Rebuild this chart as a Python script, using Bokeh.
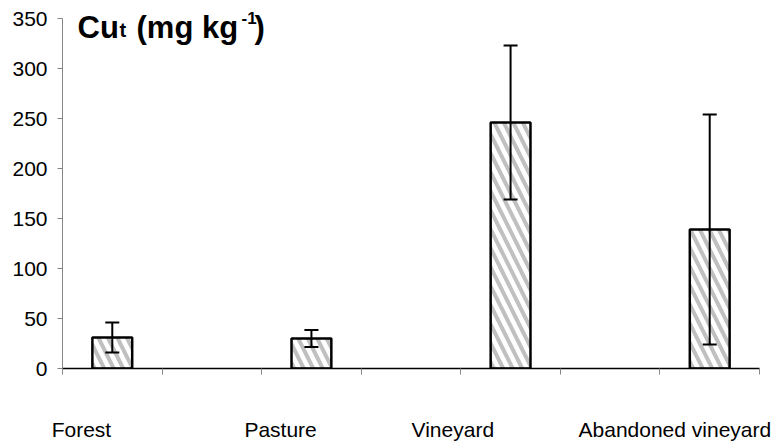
from bokeh.plotting import figure
from bokeh.models import (Range1d, FixedTicker, ColumnDataSource, Whisker, TeeHead, Label, LinearAxis)
from bokeh.embed import file_html
from bokeh.resources import INLINE

# ---- data ----
categories = ["Forest", "Pasture", "Vineyard", "Abandoned vineyard"]
slot_index = [0, 2, 4, 6]          # Excel category slot of each bar (7 slots, blanks between)
n_slots = 7
cu_mean = [31, 30, 246, 139]
cu_err = [15, 8.5, 77, 115]
y_ticks = [0, 50, 100, 150, 200, 250, 300, 350]
label_shift = [-0.31, -0.31, -0.58, -0.35]   # category label offsets (slots) as placed in the original

FONT = "Liberation Sans"

x_centers = [i + 0.5 for i in slot_index]
src = ColumnDataSource(dict(
    x=x_centers,
    top=cu_mean,
    upper=[m + e for m, e in zip(cu_mean, cu_err)],
    lower=[m - e for m, e in zip(cu_mean, cu_err)],
))

p = figure(width=780, height=448, output_backend="svg", toolbar_location=None,
           x_range=Range1d(0, n_slots), y_range=Range1d(0, 360))
p.min_border_left = 62
p.min_border_right = 21
p.min_border_top = 8
p.min_border_bottom = 80
p.outline_line_color = None
p.grid.visible = False
p.background_fill_color = "white"
p.border_fill_color = "white"

p.vbar(x="x", top="top", width=0.4, source=src,
       fill_color="white", line_color="black", line_width=2.5,
       hatch_pattern="\\", hatch_color="#c0c0c0", hatch_weight=4, hatch_scale=19)

p.add_layout(Whisker(source=src, base="x", upper="upper", lower="lower",
                     level="overlay",
                     line_color="black", line_width=2,
                     upper_head=TeeHead(size=14, line_width=2, line_color="black"),
                     lower_head=TeeHead(size=14, line_width=2, line_color="black")))

# y axis
ya = p.yaxis[0]
ya.ticker = FixedTicker(ticks=y_ticks)
ya.bounds = (y_ticks[0], y_ticks[-1])
ya.minor_tick_line_color = None
ya.major_tick_in = 0
ya.major_tick_out = 5
ya.axis_line_color = "#868686"
ya.major_tick_line_color = "#868686"
ya.major_label_text_font = FONT
ya.major_label_text_font_size = "21px"
ya.major_label_text_color = "black"
ya.major_label_standoff = 10

# x axis (slot ticks, no labels)
xa = p.xaxis[0]
xa.ticker = FixedTicker(ticks=list(range(n_slots + 1)))
xa.minor_tick_line_color = None
xa.major_tick_in = 0
xa.major_tick_out = 6
xa.axis_line_color = "black"
xa.axis_line_width = 1.5
xa.major_tick_line_color = "#868686"
xa.major_label_text_font_size = "0px"
xa.major_label_overrides = {i: "" for i in range(n_slots + 1)}

# category labels as a second, line-less axis below
label_pos = [xc + s for xc, s in zip(x_centers, label_shift)]
xa2 = LinearAxis(ticker=FixedTicker(ticks=label_pos),
                 major_label_overrides={lp: c for lp, c in zip(label_pos, categories)},
                 axis_line_color=None, major_tick_line_color=None,
                 minor_tick_line_color=None,
                 major_label_text_font=FONT, major_label_text_font_size="21px",
                 major_label_text_color="black", major_label_standoff=37)
p.add_layout(xa2, "below")

# title pieces: Cu_t (mg kg^-1)
title_parts = [
    ("Cu", 15, 341, "31px"),
    ("t", 57, 339, "20px"),
    ("(mg kg", 74, 341, "31px"),
    ("-1", 179, 351, "17px"),
    (")", 192, 341, "31px"),
]
for txt, xo, yy, fs in title_parts:
    p.add_layout(Label(x=0, y=yy, x_offset=xo, text=txt, text_font=FONT,
                       text_font_style="bold", text_font_size=fs,
                       text_baseline="alphabetic", text_align="left",
                       text_color="black"))

open("out.html", "w").write(file_html(p, INLINE))
